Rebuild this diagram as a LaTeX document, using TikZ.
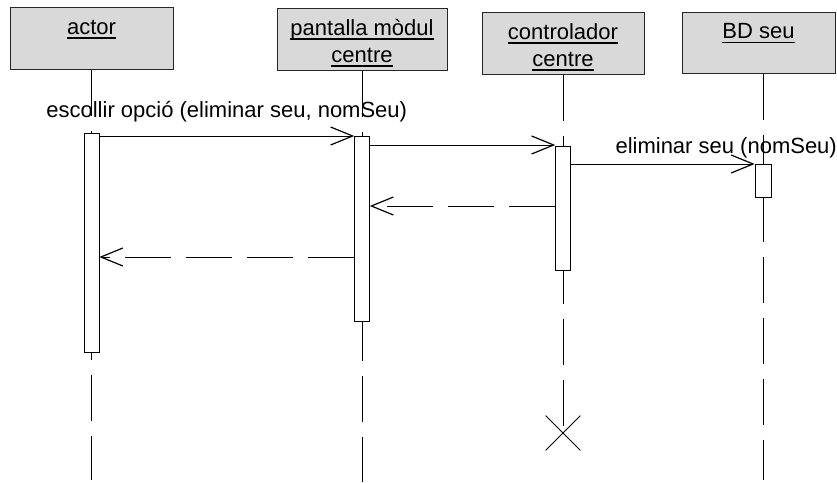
\documentclass[tikz,border=0pt]{standalone}
\usepackage{fontspec}
\setmainfont{Liberation Sans}
\usetikzlibrary{arrows.meta,shapes.misc}
\newsavebox\ulbox
\newcommand\ulabel[1]{\sbox\ulbox{#1}\rlap{\rule[-4.5pt]{\wd\ulbox}{1.6pt}}\usebox\ulbox}

\begin{document}
\begin{tikzpicture}[x=1pt,y=-1pt,
  font=\fontsize{22}{27}\selectfont,
  object/.style={draw=black!85,line width=1pt,fill=black!15,align=center,inner sep=0pt,minimum height=62pt},
  lifeline/.style={line width=0.9pt,dash pattern=on 46pt off 15pt},
  activation/.style={draw,line width=0.6pt,fill=white,minimum width=15pt,inner sep=0pt,anchor=north},
  barb/.tip={Straight Barb[length=22pt,width=18pt,line width=1.2pt]},
  msg/.style={line width=0.8pt,-barb},
  reply/.style={msg,dash pattern=on 46pt off 15pt}]
\useasboundingbox (0,0) rectangle (837,482);
% objects
\node[object,minimum width=163pt] (actor) at (91.5,38) {\rule{0pt}{24pt}\ulabel{actor}\\\ulabel{}};
\node[object,minimum width=170pt] (screen) at (362,39) {\rule{0pt}{24pt}\ulabel{pantalla mòdul}\\\ulabel{centre}};
\node[object,minimum width=162pt] (ctrl) at (563,43) {\rule{0pt}{24pt}\ulabel{controlador}\\\ulabel{centre}};
\node[object,minimum width=153pt,minimum height=61pt] (bd) at (758.5,42.5) {\rule{0pt}{24pt}\ulabel{BD seu}\\\ulabel{}};
% lifelines
\node[draw,cross out,minimum size=34pt,inner sep=0pt,line width=0.8pt] (destroy) at (563,433) {};
\draw[lifeline] (actor.south) -- (actor.south |- 0,480);
\draw[lifeline] (screen.south) -- (screen.south |- 0,482);
\draw[lifeline] (ctrl.south) -- (destroy.center);
\draw[lifeline] ([xshift=4.5pt]bd.south) -- ([xshift=4.5pt]bd.south |- 0,480);
% activations
\node[activation,minimum height=219pt] (actA) at (actor.south |- 0,133) {};
\node[activation,minimum height=185pt] (actP) at (screen.south |- 0,136) {};
\node[activation,minimum height=124pt] (actC) at (ctrl.south |- 0,146) {};
\node[activation,minimum height=33pt,minimum width=16pt] (actB) at ([xshift=4.5pt]bd.south |- 0,164) {};
% messages
\draw[msg] (actA.east |- 0,136) -- node[anchor=base,yshift=19pt] (lblSel) {escollir opció (eliminar seu, nomSeu)} (actP.west |- 0,136);
\draw[msg] (actP.east |- 0,145) -- (actC.west |- 0,145);
\draw[msg] (actC.east |- 0,164) -- (actB.west |- 0,164);
\node[anchor=base west] (lblDel) at (612,153) {eliminar seu (nomSeu)};
\draw[reply] (actC.west |- 0,206) -- (actP.east |- 0,206);
\draw[reply] (actP.west |- 0,257) -- (actA.east |- 0,257);
\end{tikzpicture}
\end{document}
